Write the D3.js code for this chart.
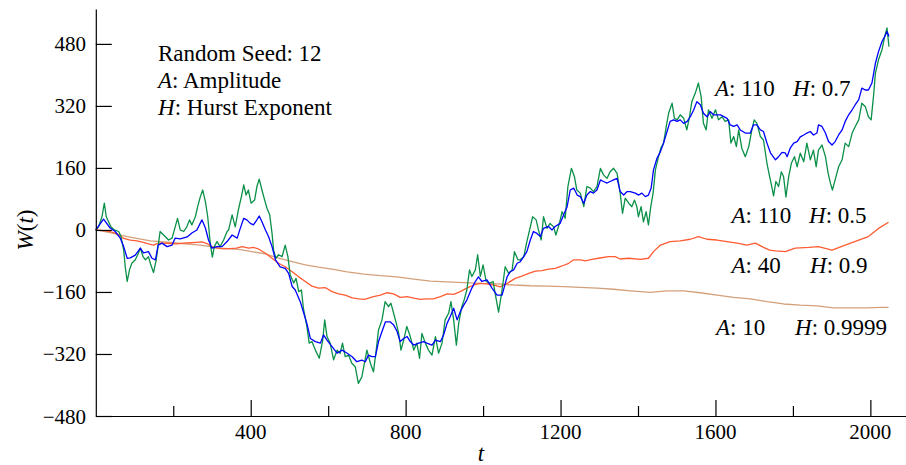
<!DOCTYPE html>
<html>
<head>
<meta charset="utf-8">
<script src="https://cdn.jsdelivr.net/npm/d3@7"></script>
</head>
<body style="margin:0">
<svg id="chart" width="906" height="465"></svg>
<script>
// Axis ticks
const xTicksMajor = [400, 800, 1200, 1600, 2000];
const xTicksMinor = [200, 600, 1000, 1400, 1800];
const yTicks = [-480, -320, -160, 0, 160, 320, 480];

// Fractional Brownian paths as [t, W(t)] pairs, random seed 12
// A = 110, H = 0.5
const pathA110H05 = [
  [0,0],[7,8],[16,34],[22,69],[27,34],[33,21],[39,8],[48,0],[59,-4],[65,-17],[72,-52],[76,-95],[81,-133],[87,-103],[93,-86],[102,-77],[110,-60],[115,-47],[122,-69],[128,-77],[136,-69],[142,-90],[149,-110],[156,-77],[162,-34],[166,-4],[175,-13],[188,-26],[197,-21],[205,8],[211,30],[218,0],[227,-4],[235,8],[242,26],[248,13],[257,34],[263,60],[270,86],[276,103],[283,73],[289,34],[296,-39],[301,-70],[306,-43],[313,-30],[321,-43],[330,-26],[339,-4],[343,0],[352,39],[360,8],[369,56],[376,86],[382,116],[388,90],[394,103],[401,69],[410,77],[416,112],[422,131],[429,103],[436,77],[442,56],[449,39],[455,-8],[459,-52],[465,-73],[472,-64],[481,-69],[489,-39],[496,-69],[502,-116],[511,-137],[517,-125],[524,-159],[531,-155],[536,-202],[545,-249],[551,-292],[558,-288],[567,-310],[577,-331],[586,-284],[591,-232],[597,-275],[605,-292],[614,-335],[623,-310],[631,-318],[637,-292],[644,-327],[653,-323],[661,-344],[670,-353],[678,-396],[687,-379],[700,-310],[709,-344],[717,-366],[724,-310],[730,-258],[739,-232],[747,-185],[756,-198],[762,-189],[769,-215],[776,-241],[782,-267],[788,-310],[795,-284],[803,-249],[812,-275],[821,-310],[829,-292],[836,-331],[842,-267],[851,-292],[859,-310],[868,-323],[877,-275],[885,-318],[894,-292],[902,-232],[911,-215],[917,-185],[924,-232],[931,-297],[937,-241],[945,-198],[951,-181],[958,-155],[965,-103],[971,-120],[980,-103],[986,-64],[993,-120],[1000,-90],[1008,-133],[1017,-137],[1026,-133],[1031,-163],[1040,-212],[1049,-155],[1057,-95],[1066,-112],[1075,-103],[1081,-56],[1090,-77],[1096,-77],[1105,-69],[1113,-30],[1122,8],[1128,34],[1137,26],[1143,0],[1150,-26],[1156,34],[1165,4],[1173,17],[1182,8],[1188,-13],[1197,17],[1204,47],[1212,30],[1219,112],[1228,159],[1236,137],[1242,103],[1251,95],[1260,60],[1268,112],[1277,108],[1285,99],[1294,112],[1303,159],[1311,142],[1320,133],[1328,150],[1337,159],[1346,146],[1354,95],[1360,43],[1367,82],[1376,69],[1384,60],[1391,77],[1397,60],[1401,34],[1408,60],[1414,21],[1421,47],[1427,13],[1433,60],[1439,95],[1445,155],[1453,189],[1459,211],[1466,224],[1473,267],[1479,301],[1488,327],[1494,288],[1501,284],[1509,297],[1518,288],[1526,258],[1533,292],[1539,331],[1548,353],[1556,379],[1563,344],[1569,275],[1576,258],[1582,310],[1591,288],[1600,310],[1608,284],[1617,292],[1625,280],[1634,284],[1640,224],[1647,241],[1654,215],[1660,258],[1668,211],[1677,189],[1686,215],[1694,258],[1700,284],[1707,275],[1716,241],[1724,232],[1733,172],[1740,137],[1744,119],[1750,88],[1756,125],[1763,112],[1770,150],[1776,137],[1782,85],[1789,137],[1796,172],[1804,189],[1811,163],[1819,198],[1828,176],[1836,224],[1845,181],[1853,206],[1860,163],[1866,206],[1875,219],[1884,189],[1891,146],[1897,120],[1902,103],[1909,129],[1918,163],[1927,181],[1935,224],[1944,215],[1953,250],[1961,267],[1970,284],[1978,327],[1987,318],[1995,292],[2002,284],[2008,344],[2013,404],[2021,439],[2030,465],[2037,499],[2043,521],[2048,473]
];
// A = 110, H = 0.7
const pathA110H07 = [
  [0,0],[20,28],[37,5],[50,-4],[63,-21],[72,-43],[81,-73],[89,-72],[102,-65],[115,-47],[123,-59],[136,-56],[145,-73],[154,-77],[161,-39],[171,-34],[184,-43],[197,-39],[205,-21],[218,-23],[236,-18],[248,-8],[261,0],[274,26],[283,5],[291,-26],[300,-47],[313,-43],[326,-43],[339,-30],[352,-13],[365,-21],[373,4],[382,30],[390,26],[399,17],[407,13],[416,26],[422,36],[429,21],[438,0],[446,-17],[455,-43],[464,-77],[476,-95],[489,-99],[498,-112],[507,-146],[515,-155],[528,-185],[537,-215],[545,-241],[554,-280],[567,-288],[580,-292],[588,-271],[597,-284],[610,-301],[623,-318],[636,-310],[649,-318],[662,-327],[674,-340],[687,-336],[696,-340],[704,-323],[713,-327],[722,-327],[730,-288],[739,-262],[748,-237],[760,-237],[769,-245],[778,-262],[786,-288],[795,-280],[804,-275],[812,-288],[821,-297],[834,-292],[846,-288],[855,-292],[868,-297],[877,-284],[890,-288],[898,-271],[907,-241],[915,-224],[924,-202],[933,-232],[941,-211],[950,-194],[958,-181],[971,-150],[980,-133],[988,-121],[997,-133],[1010,-129],[1023,-150],[1036,-168],[1049,-168],[1062,-121],[1070,-108],[1079,-103],[1088,-86],[1096,-82],[1105,-69],[1113,-56],[1122,-26],[1130,-4],[1139,-9],[1148,-17],[1156,4],[1169,9],[1178,0],[1186,9],[1199,17],[1208,39],[1217,60],[1225,103],[1234,108],[1243,90],[1251,86],[1260,69],[1268,90],[1277,99],[1285,95],[1294,103],[1303,129],[1311,125],[1320,121],[1328,125],[1337,129],[1346,133],[1354,99],[1363,90],[1372,99],[1380,99],[1393,95],[1402,90],[1410,95],[1419,86],[1427,90],[1434,108],[1440,155],[1449,185],[1458,202],[1466,224],[1475,254],[1483,280],[1492,284],[1501,280],[1509,284],[1518,275],[1527,280],[1535,292],[1544,310],[1552,331],[1561,323],[1569,301],[1578,292],[1587,305],[1595,297],[1613,297],[1630,288],[1638,271],[1647,267],[1656,271],[1664,258],[1677,250],[1690,250],[1698,271],[1707,271],[1716,258],[1724,254],[1733,224],[1742,199],[1755,181],[1763,189],[1772,200],[1780,199],[1785,189],[1793,211],[1802,224],[1811,228],[1819,240],[1828,245],[1836,250],[1845,254],[1853,245],[1862,250],[1866,271],[1875,267],[1884,250],[1892,228],[1901,219],[1909,228],[1918,245],[1927,258],[1935,280],[1944,297],[1953,310],[1961,323],[1970,336],[1978,366],[1987,361],[1995,361],[2004,379],[2013,430],[2021,460],[2030,486],[2039,503],[2043,512],[2048,499]
];
// A = 40, H = 0.9
const pathA40H09 = [
  [0,0],[20,-2],[37,-4],[55,-10],[72,-22],[89,-26],[106,-28],[123,-32],[136,-36],[149,-39],[162,-34],[175,-34],[192,-35],[210,-36],[227,-34],[244,-33],[261,-32],[274,-31],[287,-35],[300,-44],[313,-47],[330,-49],[346,-48],[363,-47],[378,-43],[395,-47],[407,-45],[420,-49],[438,-60],[455,-73],[472,-86],[489,-95],[507,-108],[524,-121],[541,-133],[558,-145],[575,-150],[593,-149],[610,-159],[627,-165],[644,-168],[662,-175],[679,-178],[694,-179],[717,-172],[735,-168],[752,-162],[769,-165],[786,-174],[804,-172],[821,-176],[838,-179],[855,-178],[872,-178],[890,-172],[907,-165],[924,-166],[941,-159],[958,-150],[976,-142],[993,-138],[1010,-139],[1027,-142],[1044,-147],[1062,-138],[1083,-125],[1100,-119],[1118,-112],[1135,-106],[1152,-105],[1169,-101],[1186,-99],[1204,-93],[1221,-86],[1234,-77],[1251,-77],[1264,-80],[1281,-76],[1298,-73],[1324,-69],[1341,-69],[1354,-75],[1376,-73],[1406,-76],[1427,-73],[1440,-56],[1458,-39],[1483,-30],[1509,-28],[1535,-24],[1556,-17],[1578,-24],[1604,-26],[1630,-30],[1656,-34],[1681,-39],[1703,-34],[1724,-45],[1740,-52],[1755,-54],[1780,-56],[1806,-47],[1841,-45],[1866,-43],[1901,-52],[1935,-39],[1970,-26],[1995,-17],[2021,4],[2047,20]
];
// A = 10, H = 0.9999
const pathA10H09999 = [
  [0,0],[37,-7],[81,-17],[141,-28],[201,-33],[270,-39],[322,-47],[369,-50],[403,-56],[438,-62],[472,-73],[507,-82],[541,-90],[575,-96],[610,-101],[649,-108],[692,-114],[735,-118],[778,-121],[821,-127],[864,-132],[907,-134],[950,-136],[993,-138],[1036,-139],[1079,-142],[1122,-144],[1165,-145],[1208,-146],[1251,-148],[1294,-150],[1337,-153],[1380,-157],[1432,-161],[1475,-157],[1518,-157],[1561,-162],[1604,-168],[1647,-174],[1690,-178],[1733,-185],[1776,-191],[1819,-194],[1862,-196],[1905,-201],[1948,-201],[1991,-201],[2026,-200],[2047,-200]
];

// Text face; glyphs are set at BASE px and scaled to the wanted size
const FONT = "Liberation Serif";
const BASE = 26;

const svg = d3.select("#chart");
const x = d3.scaleLinear().domain([0, 2092]).range([95.8, 906]);
const y = d3.scaleLinear().domain([-480, 570]).range([416, 9]);

const line = d3.line().x(d => x(d[0])).y(d => y(d[1]));

// Curves: smoothest first, then the rougher ones on top
const curves = [
  { data: pathA10H09999, color: "#d3a07a", width: 1.3 },
  { data: pathA40H09, color: "#ff5c33", width: 1.3 },
  { data: pathA110H05, color: "#0a9048", width: 1.3 },
  { data: pathA110H07, color: "#0000ff", width: 1.3 }
];
svg.append("g").selectAll("path").data(curves).join("path")
  .attr("d", d => line(d.data))
  .attr("fill", "none")
  .attr("stroke", d => d.color)
  .attr("stroke-width", d => d.width)
  .attr("stroke-linejoin", "round");

// Axes with inward ticks (labels are set separately below)
const gx = svg.append("g").attr("transform", "translate(0,416)")
  .call(d3.axisBottom(x).tickValues(xTicksMajor).tickFormat("").tickSizeInner(-16).tickSizeOuter(0));
const gxMinor = svg.append("g").attr("transform", "translate(0,416)")
  .call(d3.axisBottom(x).tickValues(xTicksMinor).tickFormat("").tickSizeInner(-10).tickSizeOuter(0));
gxMinor.select(".domain").remove();
const gy = svg.append("g").attr("transform", "translate(95.8,0)")
  .call(d3.axisLeft(y).tickValues(yTicks).tickFormat("").tickSizeInner(-16).tickSizeOuter(0));
svg.selectAll(".domain, .tick line").attr("stroke", "#000").attr("stroke-width", 1.2);

// Text label: parts are [string, italic] pairs
function label(px, py, size, parts, anchor, rotate) {
  const g = svg.append("g")
    .attr("transform", `translate(${px},${py})${rotate ? ` rotate(${rotate})` : ""} scale(${size / BASE})`);
  const t = g.append("text").attr("x", 0).attr("y", 0)
    .style("font-family", FONT).style("font-size", BASE + "px")
    .attr("fill", "#000").attr("text-anchor", anchor || "start");
  parts.forEach(p => t.append("tspan").style("font-style", p[1] ? "italic" : "normal").text(p[0]));
  return t;
}

// Tick labels
const fmt = d3.format("d");
xTicksMajor.forEach(v => label(x(v), 438.5, 21, [[fmt(v), false]], "middle"));
yTicks.forEach(v => label(86, y(v) + 7.5, 21, [[fmt(v), false]], "end"));

// Axis titles
label(32.5, 230, 23, [["W", true], ["(", false], ["t", true], [")", false]], "middle", -90);
label(481, 461, 23, [["t", true]], "middle");

// Notes
label(158, 60.5, 23, [["Random Seed: 12", false]]);
label(158, 87.5, 23, [["A", true], [": Amplitude", false]]);
label(158, 115, 23, [["H", true], [": Hurst Exponent", false]]);

// Curve labels
const curveLabels = [
  { a: "110", h: "0.7", ax: 715, hx: 793, by: 96 },
  { a: "110", h: "0.5", ax: 731.5, hx: 809, by: 222.5 },
  { a: "40", h: "0.9", ax: 731.5, hx: 810, by: 272.5 },
  { a: "10", h: "0.9999", ax: 716, hx: 795, by: 335 }
];
curveLabels.forEach(c => {
  label(c.ax, c.by, 23, [["A", true], [": " + c.a, false]]);
  label(c.hx, c.by, 23, [["H", true], [": " + c.h, false]]);
});
</script>
</body>
</html>
